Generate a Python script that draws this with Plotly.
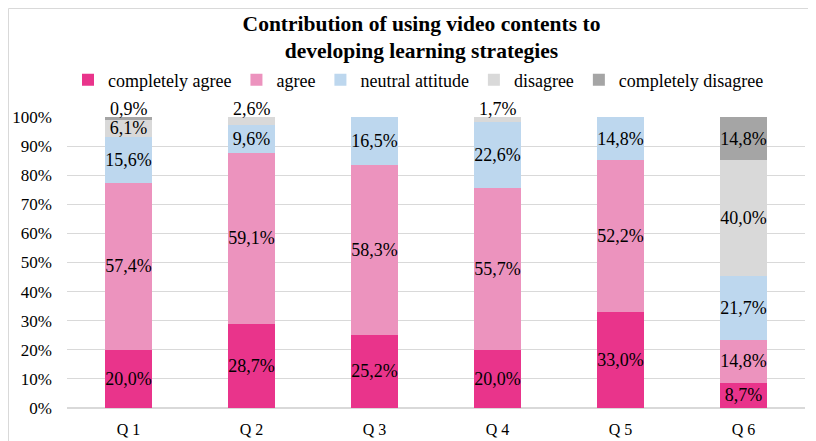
import plotly.graph_objects as go

categories = ["Q 1", "Q 2", "Q 3", "Q 4", "Q 5", "Q 6"]
series_names = ["completely agree", "agree", "neutral attitude", "disagree", "completely disagree"]
completely_agree = [20.0, 28.7, 25.2, 20.0, 33.0, 8.7]
agree = [57.4, 59.1, 58.3, 55.7, 52.2, 14.8]
neutral = [15.6, 9.6, 16.5, 22.6, 14.8, 21.7]
disagree = [6.1, 2.6, None, 1.7, None, 40.0]
completely_disagree = [0.9, None, None, None, None, 14.8]
colors = ["#E9348B", "#EC93BE", "#BDD7EE", "#D9D9D9", "#A5A5A5"]

series = [completely_agree, agree, neutral, disagree, completely_disagree]

def lab(v):
    return "" if v is None else f"{v:.1f}".replace(".", ",") + "%"

FONT = "Liberation Serif, Times New Roman, serif"
# the page body adds an 8px margin, so the figure is 8px smaller than the window
W, H = 808, 433
L, R, T, B = 59, 11, 109, 33
PW, PH = W - L - R, H - T - B

fig = go.Figure()
n = len(series)
above = []  # thin top segments whose label sits above the bar
for k, (name, vals, col) in enumerate(zip(series_names, series, colors)):
    texts = []
    for i, v in enumerate(vals):
        higher = [series[j][i] for j in range(k + 1, n) if series[j][i] is not None]
        if v is not None and not higher and v < 3:
            total = sum(series[j][i] for j in range(n) if series[j][i] is not None)
            above.append((categories[i], total / 100, lab(v)))
            texts.append("")
        else:
            texts.append(lab(v))
    fig.add_trace(go.Bar(
        x=categories,
        y=[None if v is None else v / 100 for v in vals],
        name=name,
        marker=dict(color=col, line=dict(width=0)),
        text=texts,
        textposition="inside",
        insidetextanchor="middle",
        textangle=0,
        constraintext="none",
        textfont=dict(family=FONT, size=18, color="#000000"),
        insidetextfont=dict(family=FONT, size=18, color="#000000"),
    ))

for cat, top, txt in above:
    fig.add_annotation(
        x=cat, y=top, xref="x", yref="y", text=txt, showarrow=False,
        yanchor="bottom", yshift=-4,
        font=dict(family=FONT, size=18, color="#000000"),
    )

fig.update_layout(
    barmode="stack",
    bargap=0.61,
    width=W,
    height=H,
    paper_bgcolor="white",
    plot_bgcolor="white",
    margin=dict(l=L, r=R, t=T, b=B, autoexpand=False),
    title=dict(
        text="<b>Contribution of using video contents to<br>developing learning strategies</b>",
        x=413.5 / W, xanchor="center", xref="container",
        y=1 - 22.5 / H, yanchor="top", yref="container",
        font=dict(family=FONT, size=21.5, color="#000000"),
    ),
    legend=dict(
        orientation="h",
        x=410.5 / W, xanchor="center", xref="container",
        y=1 - 72 / H, yanchor="middle", yref="container",
        font=dict(family=FONT, size=18, color="#000000"),
        itemwidth=30,
        bgcolor="rgba(0,0,0,0)",
        traceorder="normal",
    ),
    font=dict(family=FONT, size=18, color="#000000"),
    showlegend=True,
)
fig.update_yaxes(
    range=[0, 1],
    dtick=0.1,
    tickformat=".0%",
    showgrid=True,
    gridcolor="#D9D9D9",
    gridwidth=1,
    zeroline=True,
    zerolinecolor="#D9D9D9",
    tickfont=dict(family=FONT, size=17, color="#000000"),
    ticks="",
    ticklabelstandoff=14,
)
fig.update_xaxes(
    showline=False,
    ticks="",
    tickfont=dict(family=FONT, size=16, color="#000000"),
    ticklabelstandoff=10,
)
fig.add_shape(
    type="rect", xref="paper", yref="paper",
    x0=(0.5 - L) / PW, x1=(W + 10 - L) / PW,
    y0=-(B + 10) / PH, y1=(PH + T - 0.5) / PH,
    line=dict(color="#D9D9D9", width=1), fillcolor="rgba(0,0,0,0)", layer="below",
)

fig.write_html("out.html")
